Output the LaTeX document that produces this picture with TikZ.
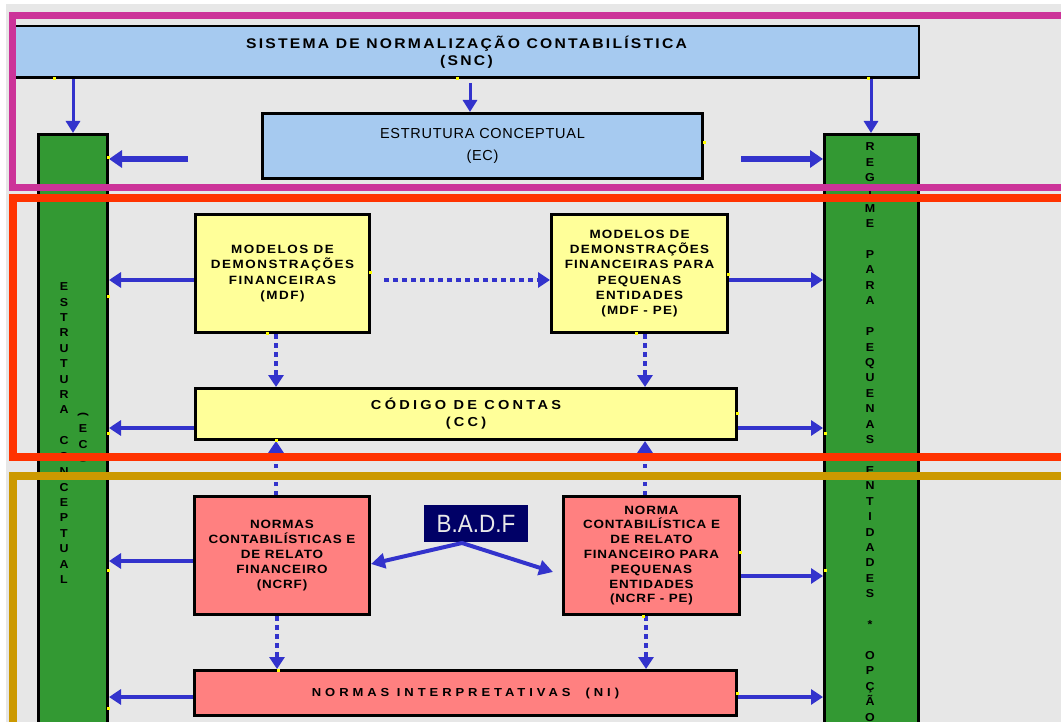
\documentclass[tikz,border=0pt]{standalone}
\usepackage{fontspec}
\setmainfont{Liberation Sans}
\usepackage{graphicx}
\usetikzlibrary{arrows.meta}

\definecolor{bg}{RGB}{231,231,231}
\definecolor{sncblue}{RGB}{166,202,240}
\definecolor{mdfyellow}{RGB}{255,255,153}
\definecolor{ncrfsalmon}{RGB}{255,128,128}
\definecolor{bargreen}{RGB}{51,153,51}
\definecolor{arrowblue}{RGB}{51,51,204}
\definecolor{framemagenta}{RGB}{204,51,153}
\definecolor{framered}{RGB}{255,51,0}
\definecolor{framegold}{RGB}{204,153,0}
\definecolor{badfnavy}{RGB}{0,0,102}
\definecolor{badftext}{RGB}{232,232,232}
\definecolor{cpyellow}{RGB}{255,255,0}

% wide bold lettering used inside the boxes
\newcommand{\wideletters}[3]{\fontsize{#1}{#2}\selectfont\bfseries\addfontfeature{FakeStretch=1.12,LetterSpace=#3}}

\begin{document}
\begin{tikzpicture}[x=1pt,y=-1pt,
  box/.style={draw=black, line width=3pt, inner sep=0pt, align=center},
  bar/.style={box, fill=bargreen},
  bartext/.style={font=\fontsize{11.5}{15.42}\selectfont\bfseries\addfontfeature{FakeStretch=1.08}, align=center, inner sep=0pt, anchor=north},
  arr/.style={draw=arrowblue, line width=3.5pt, -{Triangle[length=12pt,width=15pt]}},
  thickarr/.style={draw=arrowblue, line width=5.5pt, -{Triangle[length=13pt,width=17pt]}},
  vertarr/.style={draw=arrowblue, line width=3pt, -{Triangle[length=12pt,width=14pt]}},
  dotarr/.style={draw=arrowblue, line width=4pt, dash pattern=on 4.5pt off 4.5pt, -{Triangle[length=12pt,width=15pt]}},
  badfarr/.style={draw=arrowblue, line width=4pt, {Triangle[length=14pt,width=15pt]}-{Triangle[length=14pt,width=15pt]}},
]
\useasboundingbox (0,0) rectangle (1061,722);
\clip (0,0) rectangle (1061,722);

% canvas
\fill[white] (0,0) rectangle (1061,722);
\fill[bg] (6,4) rectangle (1061,722);

% side bars
\node[bar, minimum width=69pt, minimum height=604pt] (lbar) at (73,436.5) {};
\node[bar, minimum width=93.5pt, minimum height=604pt] (rbar) at (871.25,436.5) {};
\node[bartext] (lbartext) at (64,282.5)
  {E\\S\\T\\R\\U\\T\\U\\R\\A\\~\\C\\O\\N\\C\\E\\P\\T\\U\\A\\L};
\node[bartext] (lbarsub) at (83,412)
  {\rotatebox[origin=c]{-90}{(}\\E\\C\\\rotatebox[origin=c]{-90}{)}};
\node[bartext] (rbartext) at (870,142.5)
  {R\\E\\G\\I\\M\\E\\~\\P\\A\\R\\A\\~\\P\\E\\Q\\U\\E\\N\\A\\S\\~\\E\\N\\T\\I\\D\\A\\D\\E\\S\\~\\*\\~\\O\\P\\Ç\\Ã\\O};

% boxes
\node[box, fill=sncblue, line width=2.5pt, minimum width=904.5pt, minimum height=51.5pt,
      font=\wideletters{14}{17}{16}]
  (snc) at (466.5,52) {SISTEMA DE NORMALIZAÇÃO CONTABILÍSTICA\\(SNC)};
\node[box, fill=sncblue, minimum width=440pt, minimum height=65pt,
      font=\fontsize{14.5}{22}\selectfont\addfontfeature{LetterSpace=5}]
  (ec) at (482.5,146) {ESTRUTURA CONCEPTUAL\\(EC)};
\node[box, fill=mdfyellow, minimum width=174pt, minimum height=118pt,
      font=\wideletters{12}{15.2}{13}]
  (mdf) at (282.5,273.5) {MODELOS DE\\DEMONSTRAÇÕES\\FINANCEIRAS\\(MDF)};
\node[box, fill=mdfyellow, minimum width=176pt, minimum height=118pt,
      font=\wideletters{12}{15.2}{10}]
  (mdfpe) at (639.5,273.5) {MODELOS DE\\DEMONSTRAÇÕES\\FINANCEIRAS PARA\\PEQUENAS\\ENTIDADES\\(MDF - PE)};
\node[box, fill=mdfyellow, minimum width=541pt, minimum height=51pt,
      font=\wideletters{13}{17}{25}]
  (cc) at (466,414) {CÓDIGO DE CONTAS\\(CC)};
\node[box, fill=ncrfsalmon, minimum width=175pt, minimum height=118pt,
      font=\wideletters{12}{15}{7}]
  (ncrf) at (282,555.5) {NORMAS\\CONTABILÍSTICAS E\\DE RELATO\\FINANCEIRO\\(NCRF)};
\node[box, fill=ncrfsalmon, minimum width=176pt, minimum height=118pt,
      font=\wideletters{12}{14.8}{7}]
  (ncrfpe) at (651.5,555.5) {NORMA\\CONTABILÍSTICA E\\DE RELATO\\FINANCEIRO PARA\\PEQUENAS\\ENTIDADES\\(NCRF - PE)};
\node[box, fill=ncrfsalmon, minimum width=542pt, minimum height=45pt,
      font=\wideletters{11.6}{14}{34}]
  (ni) at (465.5,693) {NORMAS INTERPRETATIVAS \ (NI)};
\node[fill=badfnavy, text=badftext, minimum width=104pt, minimum height=37pt, inner sep=0pt,
      font=\fontsize{25}{26}\selectfont\addfontfeature{FakeStretch=0.9}]
  (badf) at (476,523.5) {B.A.D.F};

% free ends of the short arrows
\coordinate (snctoec) at (470,83);
\coordinate (ecleft) at (188,159);
\coordinate (ecright) at (741,159);
\coordinate (badfapex) at (462,543);
\coordinate (badfright) at (553,572);

% arrows from SNC
\draw[vertarr] (snc.south -| 73,0) -- (lbar.north -| 73,0);
\draw[vertarr] (snctoec) -- (ec.north -| snctoec);
\draw[vertarr] (snc.south -| 871,0) -- (rbar.north -| 871,0);

% arrows from EC
\draw[thickarr] (ecleft) -- (lbar.east |- ecleft);
\draw[thickarr] (ecright) -- (rbar.west |- ecright);

% MDF level
\draw[arr] (mdf.west |- 0,280) -- (lbar.east |- 0,280);
\draw[arr] (mdfpe.east |- 0,280) -- (rbar.west |- 0,280);
\draw[dotarr] ([xshift=13pt]mdf.east |- 0,280) -- (mdfpe.west |- 0,280);
\draw[dotarr] (mdf.south -| 276,0) -- (cc.north -| 276,0);
\draw[dotarr] (mdfpe.south -| 645,0) -- (cc.north -| 645,0);

% CC level
\draw[arr] (cc.west |- 0,428) -- (lbar.east |- 0,428);
\draw[arr] (cc.east |- 0,428) -- (rbar.west |- 0,428);
\draw[dotarr] (ncrf.north -| 276,0) -- (cc.south -| 276,0);
\draw[dotarr] (ncrfpe.north -| 645,0) -- (cc.south -| 645,0);

% NCRF level
\draw[arr] (ncrf.west |- 0,561) -- (lbar.east |- 0,561);
\draw[arr] (ncrfpe.east |- 0,576) -- (rbar.west |- 0,576);
\draw[badfarr] (ncrf.east |- 0,564) -- (badfapex) -- (badfright);
\draw[dotarr] (ncrf.south -| 277,0) -- (ni.north -| 277,0);
\draw[dotarr] (ncrfpe.south -| 646,0) -- (ni.north -| 646,0);

% NI level
\draw[arr] (ni.west |- 0,697) -- (lbar.east |- 0,697);
\draw[arr] (ni.east |- 0,697) -- (rbar.west |- 0,697);

% connection point marks
\foreach \p in {(54,79),(457,79),(868,79),(704,143),
                (108,158),(108,297),(108,433),(108,570),(108,708),
                (825,433),(825,570),
                (370,273),(267,333),(728,275),(636,333),
                (737,413),(276,440),(740,552),(643,616),
                (278,670),(737,693)}
  \fill[cpyellow] \p +(-1.5,-1.5) rectangle +(1.5,1.5);

% grouping frames
\draw[framemagenta, line width=7pt] (1080,15.5) -- (12.5,15.5) -- (12.5,188) -- (1080,188);
\draw[framered, line width=8pt] (1080,198) -- (13,198) -- (13,457) -- (1080,457);
\draw[framegold, line width=8pt] (1080,476) -- (13,476) -- (13,760);
\end{tikzpicture}
\end{document}
